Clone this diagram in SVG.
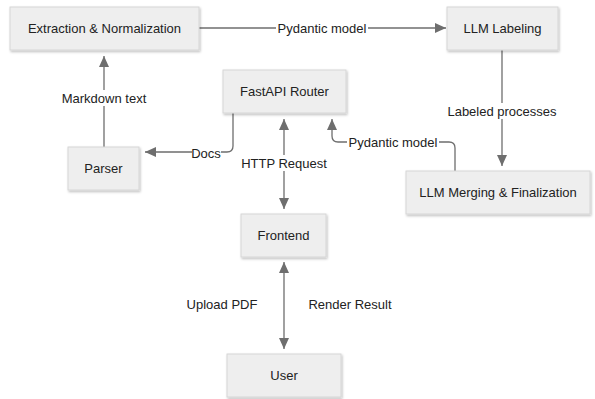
<svg xmlns="http://www.w3.org/2000/svg" width="595" height="399" viewBox="0 0 595 399">
<style>
  .box{fill:#eeeeee;stroke:#d6d6d6;stroke-width:1;filter:url(#sh)}
  .t{font-family:"Liberation Sans",Arial,sans-serif;font-size:13px;fill:#222;text-anchor:middle;dominant-baseline:central}
  .e{fill:none;stroke:#6e6e6e;stroke-width:1.3}
  .bg{fill:#ffffff}
</style>
<defs>
  <filter id="sh" x="-10%" y="-20%" width="130%" height="150%">
    <feDropShadow dx="1" dy="1.5" stdDeviation="1.2" flood-color="#000" flood-opacity="0.25"/>
  </filter>
  <marker id="ah" markerUnits="userSpaceOnUse" markerWidth="12" markerHeight="12" viewBox="0 0 12 12" refX="11" refY="6" orient="auto-start-reverse">
    <path d="M0,1 L11,6 L0,11 Z" fill="#6e6e6e"/>
  </marker>
</defs>
<rect width="595" height="399" fill="#ffffff"/>
<g id="connectors">
  <path class="e" d="M199,28 H446" marker-end="url(#ah)"/>
  <path class="e" d="M104,147 V56" marker-end="url(#ah)"/>
  <path class="e" d="M233,113 V146 Q233,152 227,152 H145" marker-end="url(#ah)"/>
  <path class="e" d="M455,171 V148 Q455,142 449,142 H338 Q332,142 332,136 V119" marker-end="url(#ah)"/>
  <path class="e" d="M284,119 V209" marker-start="url(#ah)" marker-end="url(#ah)"/>
  <path class="e" d="M284,262 V349" marker-start="url(#ah)" marker-end="url(#ah)"/>
  <path class="e" d="M502,50 V166" marker-end="url(#ah)"/>
  <rect class="bg" x="276" y="20" width="92" height="16"/>
  <text class="t" x="322" y="28">Pydantic model</text>
  <rect class="bg" x="60" y="90" width="88" height="16"/>
  <text class="t" x="104" y="98">Markdown text</text>
  <rect class="bg" x="192" y="145" width="29" height="16"/>
  <text class="t" x="206" y="153">Docs</text>
  <rect class="bg" x="347" y="134" width="92" height="16"/>
  <text class="t" x="393" y="142">Pydantic model</text>
  <rect class="bg" x="238" y="155" width="92" height="16"/>
  <text class="t" x="284" y="163">HTTP Request</text>
  <rect class="bg" x="447" y="103" width="110" height="16"/>
  <text class="t" x="502" y="111">Labeled processes</text>
  <text class="t" x="222" y="304">Upload PDF</text>
  <text class="t" x="350" y="304">Render Result</text>
</g>
<g id="extraction"><rect class="box" x="10" y="7" width="189" height="43"/><text class="t" x="104.5" y="28.5">Extraction &amp; Normalization</text></g>
<g id="llm-labeling"><rect class="box" x="447" y="7" width="111" height="43"/><text class="t" x="502.5" y="28.5">LLM Labeling</text></g>
<g id="fastapi"><rect class="box" x="223" y="70" width="123" height="43"/><text class="t" x="284.5" y="91.5">FastAPI Router</text></g>
<g id="parser"><rect class="box" x="68" y="147" width="71" height="43"/><text class="t" x="103.5" y="168.5">Parser</text></g>
<g id="llm-merging"><rect class="box" x="406" y="171" width="184" height="43"/><text class="t" x="498" y="192.5">LLM Merging &amp; Finalization</text></g>
<g id="frontend"><rect class="box" x="241" y="214" width="85" height="43"/><text class="t" x="283.5" y="235.5">Frontend</text></g>
<g id="user"><rect class="box" x="227" y="354" width="114" height="43"/><text class="t" x="284" y="375.5">User</text></g>
</svg>
